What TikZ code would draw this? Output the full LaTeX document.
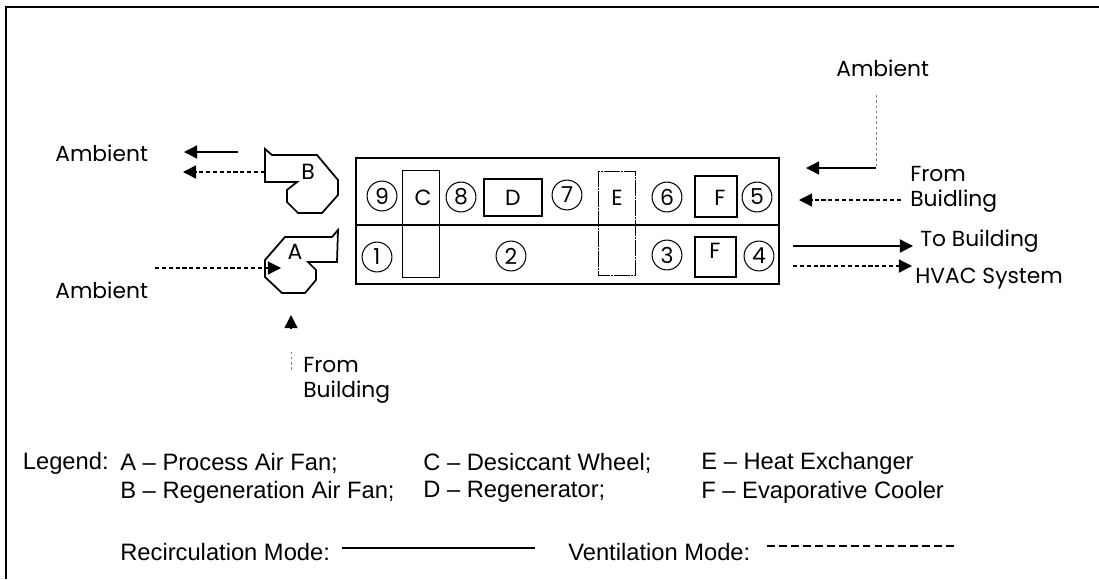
\documentclass[tikz,border=0pt]{standalone}
\usepackage{fontspec}
\setmainfont{Poppins}
\newfontfamily\legendfont{Liberation Sans}
\usetikzlibrary{arrows.meta}

\begin{document}
\begin{tikzpicture}[x=0.02cm, y=-0.02cm, >={Triangle[length=7.5pt,width=7.5pt]}, line cap=butt, line join=miter]

% ---------- styles ----------
\tikzset{
  acFrame/.style   ={draw, line width=1.2pt},
  acDuct/.style    ={draw, line width=0.75pt},
  acFan/.style     ={draw, line width=1pt},
  acWheel/.style   ={draw, line width=0.5pt},
  acExch/.style    ={draw, line width=0.5pt, dash pattern=on 9pt off 0.7pt on 1pt off 0.7pt},
  acCooler/.style  ={draw, line width=0.7pt},
  acState/.style   ={draw, circle, line width=0.6pt, minimum size=17pt, inner sep=0pt, font=\fontsize{12.5}{12.5}\selectfont},
  acMark/.style    ={inner sep=0pt, font=\fontsize{12.5}{12.5}\selectfont},
  acLabel/.style   ={inner sep=0pt, anchor=west, align=left, font=\fontsize{12.4}{14.2}\selectfont},
  acLegend/.style  ={inner sep=0pt, anchor=west, font=\legendfont\fontsize{13.5}{13.5}\selectfont},
  acRecirc/.style  ={->, line width=0.8pt},
  acVent/.style    ={->, line width=0.7pt, dash pattern=on 2.4pt off 1.5pt},
  acFaint/.style   ={line width=0.35pt, gray, dash pattern=on 1.5pt off 1.5pt}
}

\useasboundingbox (0,0) rectangle (1099,579);

% Frame lines, top and left only
\path[acFrame] (6,579) -- (6,7) -- (1099,7);

% ---------- unit casing ----------
\path[acDuct] (356,158) rectangle (779,284);
\draw[acDuct] (356,225) -- (779,225);

% Desiccant wheel and heat exchanger
\path[acWheel] (402,170) rectangle (439,277);
\path[acExch] (598,171) rectangle (635,275);

% Regenerator and coolers
\path[acCooler] (484,179) rectangle (542,216);
\path[acCooler] (695,176) rectangle (737,217);
\path[acCooler] (695,237) rectangle (736,277);

% ---------- fans ----------
% Fan B
\path[acFan] (265,149) -- (272,155) -- (317,155) -- (338,180) -- (338,195)
  -- (322,213) -- (298,213) -- (287,202) -- (287,190) -- (297,182) -- (265,182) -- cycle;
% Fan A
\path[acFan] (338,230) -- (332,237) -- (285,237) -- (265,260) -- (265,277)
  -- (282,293) -- (305,293) -- (316,280) -- (316,270) -- (308,262) -- (337,262) -- cycle;

% ---------- component letters ----------
\node[acMark] (markA) at (295,252) {A};
\node[acMark] (markB) at (308,172) {B};
\node[acMark] (markC) at (423,198) {C};
\node[acMark] (markD) at (513,198) {D};
\node[acMark] (markE) at (617,198) {E};
\node[acMark] (markFtop) at (720,198) {F};
\node[acMark] (markFbot) at (715,251) {F};

% ---------- state points ----------
\node[acState] (state9) at (382,196) {9};
\node[acState] (state8) at (461,197) {8};
\node[acState] (state7) at (567,195) {7};
\node[acState] (state6) at (667,197) {6};
\node[acState] (state5) at (757,197) {5};
\node[acState] (state1) at (377,257) {1};
\node[acState] (state2) at (511,256) {2};
\node[acState] (state3) at (667,255) {3};
\node[acState] (state4) at (759,256) {4};

% ---------- labels ----------
\node[acLabel] (ambientExh) at (55,153) {Ambient};
\node[acLabel] (ambientIn)  at (55,290) {Ambient};
\node[acLabel] (ambientTop) at (836,68) {Ambient};
\node[acLabel] (fromBldgA)  at (303,380) {From\\Building};
\node[acLabel] (fromBldgE)  at (910,189) {From\\Buidling};
\node[acLabel] (toBldg)     at (920,241) {To Building};
\node[acLabel] (hvacSys)    at (915,279) {HVAC System};

% ---------- air streams ----------
\coordinate (exhRecStart)  at (238,152);
\coordinate (exhRecEnd)    at (184,152);
\coordinate (exhVentStart) at (265,172);
\coordinate (exhVentEnd)   at (183,172);
\coordinate (inVentStart)  at (155,268);
\coordinate (inVentEnd)    at (281,268);
\coordinate (procFaintA)   at (291,370);
\coordinate (procFaintB)   at (291,352);
\coordinate (procTipStart) at (291,329);
\coordinate (procTipEnd)   at (291,315);
\coordinate (ambFaintStart) at (876,95);
\coordinate (ambCorner)    at (876,168);
\coordinate (ambEnd)       at (806,168);
\coordinate (bldgVentStart) at (901,200);
\coordinate (bldgVentEnd)  at (799,200);
\coordinate (supRecStart)  at (793,246);
\coordinate (supRecEnd)    at (913,246);
\coordinate (supVentStart) at (793,266);
\coordinate (supVentEnd)   at (912,266);

\draw[acRecirc] (exhRecStart) -- (exhRecEnd);
\draw[acVent]   (exhVentStart) -- (exhVentEnd);
\draw[acVent]   (inVentStart) -- (inVentEnd);
\draw[acFaint]  (procFaintA) -- (procFaintB);
\draw[acRecirc] (procTipStart) -- (procTipEnd);
\draw[acFaint]  (ambFaintStart) -- (ambCorner);
\draw[acRecirc] (ambCorner) -- (ambEnd);
\draw[acVent]   (bldgVentStart) -- (bldgVentEnd);
\draw[acRecirc] (supRecStart) -- (supRecEnd);
\draw[acVent]   (supVentStart) -- (supVentEnd);

% ---------- legend ----------
\node[acLegend, anchor=east] (legendHead) at (109,463) {Legend:};
\node[acLegend] (legendA) at (120,463) {A – Process Air Fan;};
\node[acLegend] (legendB) at (120,492) {B – Regeneration Air Fan;};
\node[acLegend] (legendC) at (423,463) {C – Desiccant Wheel;};
\node[acLegend] (legendD) at (423,492) {D – Regenerator;};
\node[acLegend] (legendE) at (701,463) {E – Heat Exchanger};
\node[acLegend] (legendF) at (701,492) {F – Evaporative Cooler};
\node[acLegend] (legendRec)  at (120,552) {Recirculation Mode:};
\node[acLegend] (legendVent) at (568,552) {Ventilation Mode:};

\coordinate (keyRecStart)  at (342,548);
\coordinate (keyRecEnd)    at (535,548);
\coordinate (keyVentStart) at (767,546);
\coordinate (keyVentEnd)   at (958,546);
\draw[line width=1.3pt] (keyRecStart) -- (keyRecEnd);
\draw[line width=0.9pt, dash pattern=on 4.5pt off 2.3pt] (keyVentStart) -- (keyVentEnd);

\end{tikzpicture}
\end{document}
